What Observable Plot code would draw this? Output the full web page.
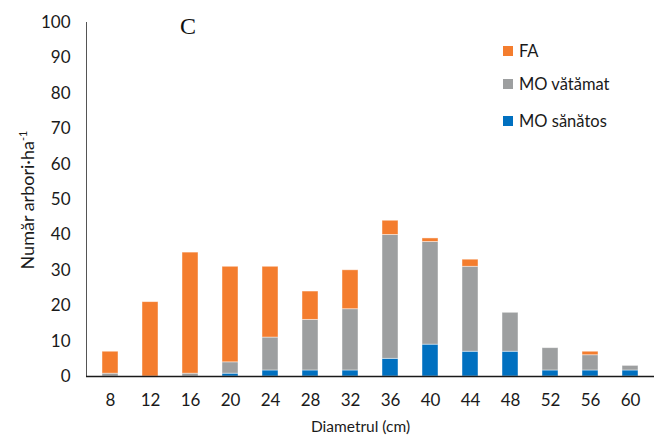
<!DOCTYPE html>
<html>
<head>
<meta charset="utf-8">
<script src="https://cdn.jsdelivr.net/npm/d3@7"></script>
<script src="https://cdn.jsdelivr.net/npm/@observablehq/plot@0.6"></script>
<style>
  html, body { margin: 0; padding: 0; background: #fff; }
  #wrap { position: relative; width: 666px; height: 442px; font-family: Lato, "Open Sans", sans-serif; color: #1a1a1a; }
  #panel { position: absolute; left: 180px; top: 13px; font-family: "Liberation Serif", "DejaVu Serif", serif; font-size: 24px; color: #111; }
  .leg { position: absolute; left: 503px; font-size: 16.5px; display: flex; align-items: center; color: #1a1a1a; }
  .leg span.sw { display: inline-block; width: 10px; height: 10px; margin-right: 6px; }
  #ylab { position: absolute; left: 27px; top: 200px; transform: translate(-50%, -50%) rotate(-90deg); white-space: nowrap; font-size: 18px; color: #1a1a1a; }
  #ylab sup { font-size: 11px; }
</style>
</head>
<body>
<div id="wrap">
  <div id="chart"></div>
</div>
<script>
const diametre = [8, 12, 16, 20, 24, 28, 32, 36, 40, 44, 48, 52, 56, 60];
const moSanatos = [0, 0, 0, 0.8, 1.7, 1.7, 1.7, 5, 9, 7, 7, 1.7, 1.7, 1.7];
const moVatamat = [0.8, 0, 0.8, 3.2, 9.3, 14.3, 17.3, 35, 29, 24, 11, 6.3, 4.3, 1.3];
const fa = [6.2, 21, 34.2, 27, 20, 8, 11, 4, 1, 2, 0, 0, 1, 0];
const seriesNames = ["MO sănătos", "MO vătămat", "FA"];
const seriesColors = ["#0070C0", "#9D9FA0", "#F47D2E"];
const yTicks = [0, 10, 20, 30, 40, 50, 60, 70, 80, 90, 100];
const legendOrder = ["FA", "MO vătămat", "MO sănătos"];

const rows = [];
diametre.forEach((d, i) => {
  rows.push({d, s: seriesNames[0], v: moSanatos[i]});
  rows.push({d, s: seriesNames[1], v: moVatamat[i]});
  rows.push({d, s: seriesNames[2], v: fa[i]});
});

const chart = Plot.plot({
  width: 666,
  height: 442,
  marginLeft: 86,
  marginRight: 12,
  marginTop: 22,
  marginBottom: 66,
  style: {fontFamily: "Lato, 'Open Sans', sans-serif", fontSize: "17px", color: "#1a1a1a", background: "transparent"},
  x: {type: "band", domain: diametre, paddingInner: 0.606, paddingOuter: 0.3, label: null},
  y: {domain: [0, 100], label: null},
  color: {domain: seriesNames, range: seriesColors},
  marks: [
    Plot.barY(rows, {x: "d", y: "v", fill: "s", stroke: "#ffffff", strokeOpacity: 0.55, strokeWidth: 0.8}),
    Plot.axisY({ticks: yTicks, tickSize: 0, tickPadding: 16, label: null, fontSize: 17}),
    Plot.axisX({tickSize: 0, tickPadding: 17, label: null, fontSize: 17}),
    Plot.frame({anchor: "left", stroke: "#555", strokeWidth: 1}),
    Plot.ruleY([0], {stroke: "#1a1a1a", strokeWidth: 1.3}),
    Plot.text(["Diametrul (cm)"], {frameAnchor: "bottom", dy: 55, dx: -10, fontSize: 15.5, fill: "#1a1a1a"})
  ]
});
const wrap = document.getElementById("wrap");
document.getElementById("chart").appendChild(chart);

const panel = document.createElement("div");
panel.id = "panel"; panel.textContent = "C";
wrap.appendChild(panel);

const ylab = document.createElement("div");
ylab.id = "ylab";
ylab.innerHTML = "Număr arbori·ha<sup>-1</sup>";
wrap.appendChild(ylab);

const legTops = [51, 84, 121];
legendOrder.forEach((name, i) => {
  const el = document.createElement("div");
  el.className = "leg";
  el.style.top = (legTops[i] - 11) + "px";
  el.style.height = "22px";
  const sw = document.createElement("span");
  sw.className = "sw";
  sw.style.background = seriesColors[seriesNames.indexOf(name)];
  el.appendChild(sw);
  const t = document.createElement("span");
  t.textContent = name;
  el.appendChild(t);
  wrap.appendChild(el);
});
</script>
</body>
</html>
